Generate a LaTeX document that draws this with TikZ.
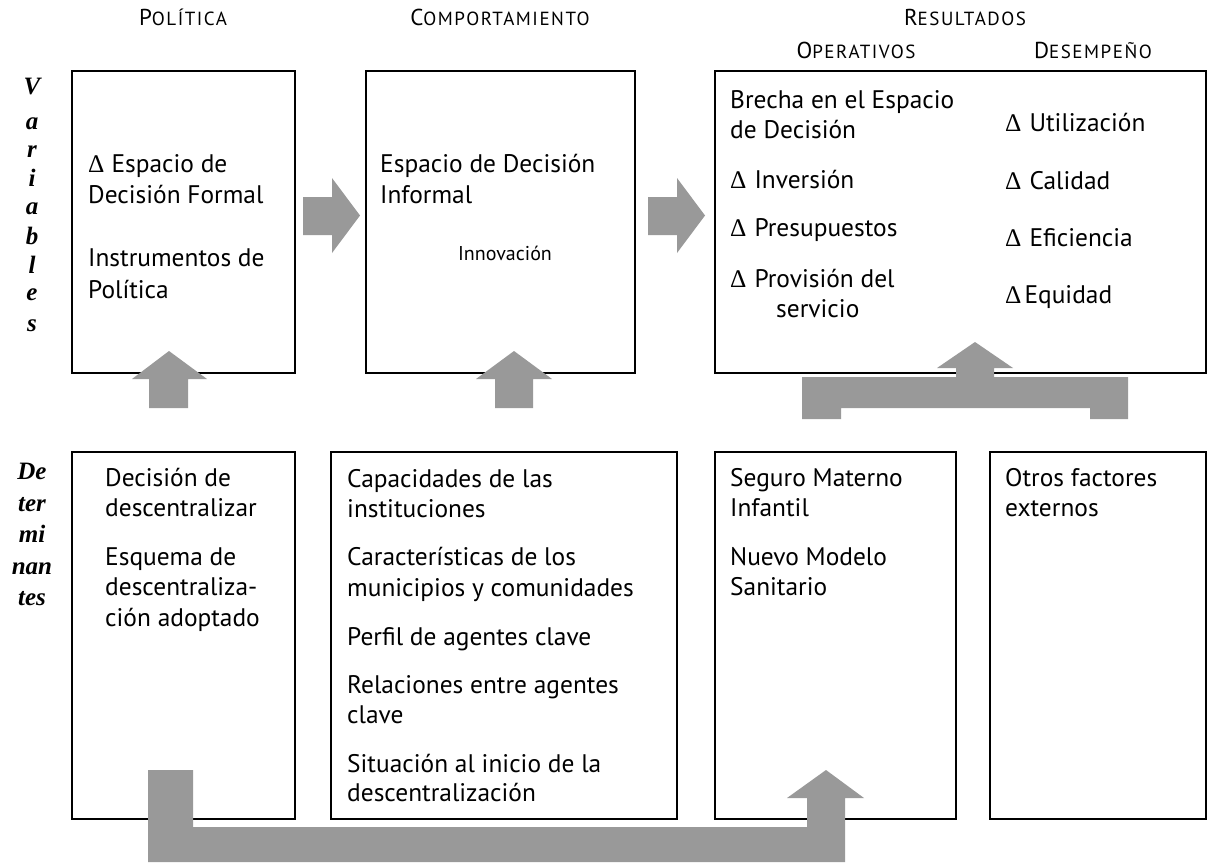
\documentclass[tikz,border=0pt]{standalone}
\usepackage{fontspec}
\setmainfont{PT Sans}
\newfontfamily\seriff{Liberation Serif}
\newfontfamily\hdrfont[LetterSpace=8]{PT Sans}
\newcommand\dl{{\seriff Δ}}
\newcommand\hsc[2]{{\hdrfont\fontsize{23}{27}\selectfont #1}{\hdrfont\fontsize{19}{23}\selectfont #2}}
\definecolor{arrowgray}{HTML}{999999}
\begin{document}
\begin{tikzpicture}[x=1pt,y=-1pt,
  box/.style={draw=black,line width=2.3pt,inner sep=0pt},
  txt/.style={inner sep=0pt,anchor=base west,font=\fontsize{25.4}{30}\selectfont},
  small/.style={inner sep=0pt,anchor=base,font=\fontsize{20}{24}\selectfont},
  hdr/.style={inner sep=0pt,anchor=base},
  vl/.style={inner sep=0pt,anchor=base,font=\seriff\bfseries\itshape\fontsize{25}{30}\selectfont},
  garrow/.style={fill=arrowgray,draw=none}]
\useasboundingbox (0,0) rectangle (1207,863);
\fill[white] (0,0) rectangle (1207,863);

% headers
\node[hdr] (hpol) at (183,25) {\hsc{P}{OLÍTICA}};
\node[hdr] (hcomp) at (500,25) {\hsc{C}{OMPORTAMIENTO}};
\node[hdr] (hres) at (965,25) {\hsc{R}{ESULTADOS}};
\node[hdr] (hope) at (856,58) {\hsc{O}{PERATIVOS}};
\node[hdr] (hdes) at (1093,58) {\hsc{D}{ESEMPEÑO}};

% vertical labels
\node[vl] (va1) at (32,94) {V};
\node[vl] (va2) at (32,129) {a};
\node[vl] (va3) at (32,157) {r};
\node[vl] (va4) at (32,186) {i};
\node[vl] (va5) at (32,214) {a};
\node[vl] (va6) at (32,244) {b};
\node[vl] (va7) at (32,273) {l};
\node[vl] (va8) at (32,300) {e};
\node[vl] (va9) at (32,331) {s};
\node[vl] (de1) at (32,479) {De};
\node[vl] (de2) at (32,511) {ter};
\node[vl] (de3) at (32,542) {mi};
\node[vl] (de4) at (32,574) {nan};
\node[vl] (de5) at (32,605) {tes};

% boxes
\node[box,minimum width=223pt,minimum height=302pt] (v1) at (183.5,222) {};
\node[box,minimum width=269pt,minimum height=302pt] (v2) at (500.5,222) {};
\node[box,minimum width=491pt,minimum height=302pt] (v3) at (960.5,222) {};
\node[box,minimum width=223pt,minimum height=367pt] (d1) at (183.5,635.5) {};
\node[box,minimum width=346pt,minimum height=367pt] (d2) at (504,635.5) {};
\node[box,minimum width=241pt,minimum height=367pt] (d3) at (835.5,635.5) {};
\node[box,minimum width=216pt,minimum height=367pt] (d4) at (1098,635.5) {};

% box texts: variables
\node[txt] (t11) at (88,172) {\dl\hspace{7pt}Espacio de};
\node[txt] (t12) at (88,203) {Decisión Formal};
\node[txt] (t13) at (88,266) {Instrumentos de};
\node[txt] (t14) at (88,298) {Política};

\node[txt] (t21) at (380,172) {Espacio de Decisión};
\node[txt] (t22) at (380,203) {Informal};
\node[small] (t23) at (505,260) {Innovación};

\node[txt] (t31) at (730,108) {Brecha en el Espacio};
\node[txt] (t32) at (730,138) {de Decisión};
\node[txt] (t33) at (730,188) {\dl\hspace{8pt}Inversión};
\node[txt] (t34) at (730,236) {\dl\hspace{8pt}Presupuestos};
\node[txt] (t35) at (730,287) {\dl\hspace{8pt}Provisión del};
\node[txt] (t36) at (776,317) {servicio};

\node[txt] (t41) at (1005,131) {\dl\hspace{8pt}Utilización};
\node[txt] (t42) at (1005,189) {\dl\hspace{8pt}Calidad};
\node[txt] (t43) at (1005,246) {\dl\hspace{8pt}Eficiencia};
\node[txt] (t44) at (1005,303) {\dl\hspace{3pt}Equidad};

% box texts: determinantes
\node[txt] (u11) at (105,486) {Decisión de};
\node[txt] (u12) at (105,516) {descentralizar};
\node[txt] (u13) at (105,565) {Esquema de};
\node[txt] (u14) at (105,595) {descentraliza-};
\node[txt] (u15) at (105,626) {ción adoptado};

\node[txt] (u21) at (347,487) {Capacidades de las};
\node[txt] (u22) at (347,517) {instituciones};
\node[txt] (u23) at (347,565) {Características de los};
\node[txt] (u24) at (347,596) {municipios y comunidades};
\node[txt] (u25) at (347,645) {Perfil de agentes clave};
\node[txt] (u26) at (347,693) {Relaciones entre agentes};
\node[txt] (u27) at (347,723) {clave};
\node[txt] (u28) at (347,772) {Situación al inicio de la};
\node[txt] (u29) at (347,801) {descentralización};

\node[txt] (u31) at (730,486) {Seguro Materno};
\node[txt] (u32) at (730,516) {Infantil};
\node[txt] (u33) at (730,565) {Nuevo Modelo};
\node[txt] (u34) at (730,595) {Sanitario};

\node[txt] (u41) at (1005,486) {Otros factores};
\node[txt] (u42) at (1005,516) {externos};

% block arrows
\fill[garrow] (303,197) -- (332,197) -- (332,178) -- (360,215.5) -- (332,253) -- (332,235) -- (303,235) -- cycle;
\fill[garrow] (648,197) -- (677,197) -- (677,178) -- (705,215.5) -- (677,253) -- (677,235) -- (648,235) -- cycle;
\fill[garrow] (149,408) -- (149,379) -- (132,379) -- (169,351) -- (207,379) -- (188,379) -- (188,408) -- cycle;
\fill[garrow] (495,408) -- (495,379) -- (476,379) -- (514,351) -- (552,379) -- (533,379) -- (533,408) -- cycle;
\fill[garrow] (802,419) -- (802,377) -- (956,377) -- (956,368) -- (937,368) -- (975,342) -- (1013,368) -- (994,368) -- (994,377) -- (1128,377) -- (1128,419) -- (1090,419) -- (1090,408) -- (841,408) -- (841,419) -- cycle;
\fill[garrow] (148,770) -- (193,770) -- (193,827) -- (807,827) -- (807,798) -- (787,798) -- (826,770) -- (864,798) -- (845,798) -- (845,862) -- (148,862) -- cycle;
\end{tikzpicture}
\end{document}
